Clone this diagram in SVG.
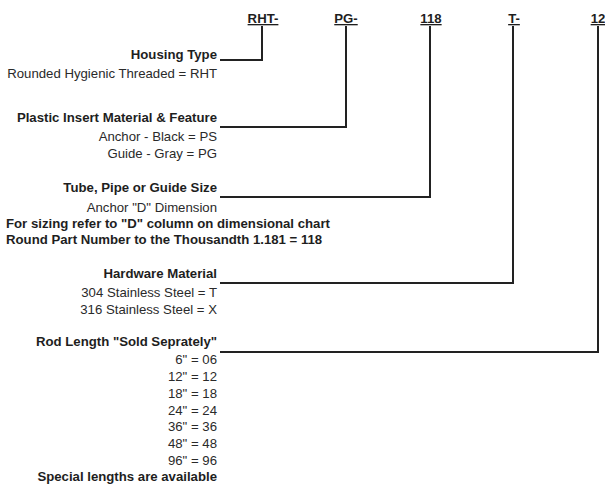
<svg xmlns="http://www.w3.org/2000/svg" width="605" height="487" viewBox="0 0 605 487">
<style>
text{font-family:"Liberation Sans",Arial,sans-serif;font-size:13.2px;fill:#2a2a2a}
.b{font-weight:bold;fill:#1e1e1e}
.r{text-anchor:end}
.c{text-anchor:middle;font-weight:bold;text-decoration:underline;fill:#1e1e1e}
.ln{fill:none;stroke:#222;stroke-width:2}
</style>
<rect width="605" height="487" fill="#fff"/>
<g id="connectors">
<polyline class="ln" points="262,26 262,60 220,60"/>
<polyline class="ln" points="346,26 346,127 220,127"/>
<polyline class="ln" points="430,26 430,197 220,197"/>
<polyline class="ln" points="513,26 513,283 220,283"/>
<polyline class="ln" points="598,26 598,352 220,352"/>
</g>
<g id="code-RHT"><text class="c" x="263" y="23">RHT-</text></g>
<g id="code-PG"><text class="c" x="346" y="23">PG-</text></g>
<g id="code-118"><text class="c" x="431" y="23">118</text></g>
<g id="code-T"><text class="c" x="514" y="23">T-</text></g>
<g id="code-12"><text class="c" x="598" y="23">12</text></g>
<g id="housing">
<text class="b r" x="217" y="59">Housing Type</text>
<text class="r" x="217" y="78">Rounded Hygienic Threaded = RHT</text>
</g>
<g id="insert">
<text class="b r" x="217" y="122">Plastic Insert Material &amp; Feature</text>
<text class="r" x="217" y="141">Anchor - Black = PS</text>
<text class="r" x="217" y="158">Guide - Gray = PG</text>
</g>
<g id="size">
<text class="b r" x="217" y="192">Tube, Pipe or Guide Size</text>
<text class="r" x="217" y="212">Anchor "D" Dimension</text>
<text class="b" x="6" y="228">For sizing refer to "D" column on dimensional chart</text>
<text class="b" x="6" y="244">Round Part Number to the Thousandth 1.181 = 118</text>
</g>
<g id="hardware">
<text class="b r" x="217" y="278">Hardware Material</text>
<text class="r" x="217" y="297">304 Stainless Steel = T</text>
<text class="r" x="217" y="314">316 Stainless Steel = X</text>
</g>
<g id="rod">
<text class="b r" x="217" y="346">Rod Length "Sold Seprately"</text>
<text class="r" x="217" y="364">6" = 06</text>
<text class="r" x="217" y="381">12" = 12</text>
<text class="r" x="217" y="398">18" = 18</text>
<text class="r" x="217" y="415">24" = 24</text>
<text class="r" x="217" y="431">36" = 36</text>
<text class="r" x="217" y="448">48" = 48</text>
<text class="r" x="217" y="465">96" = 96</text>
<text class="b r" x="217" y="481">Special lengths are available</text>
</g>
</svg>
